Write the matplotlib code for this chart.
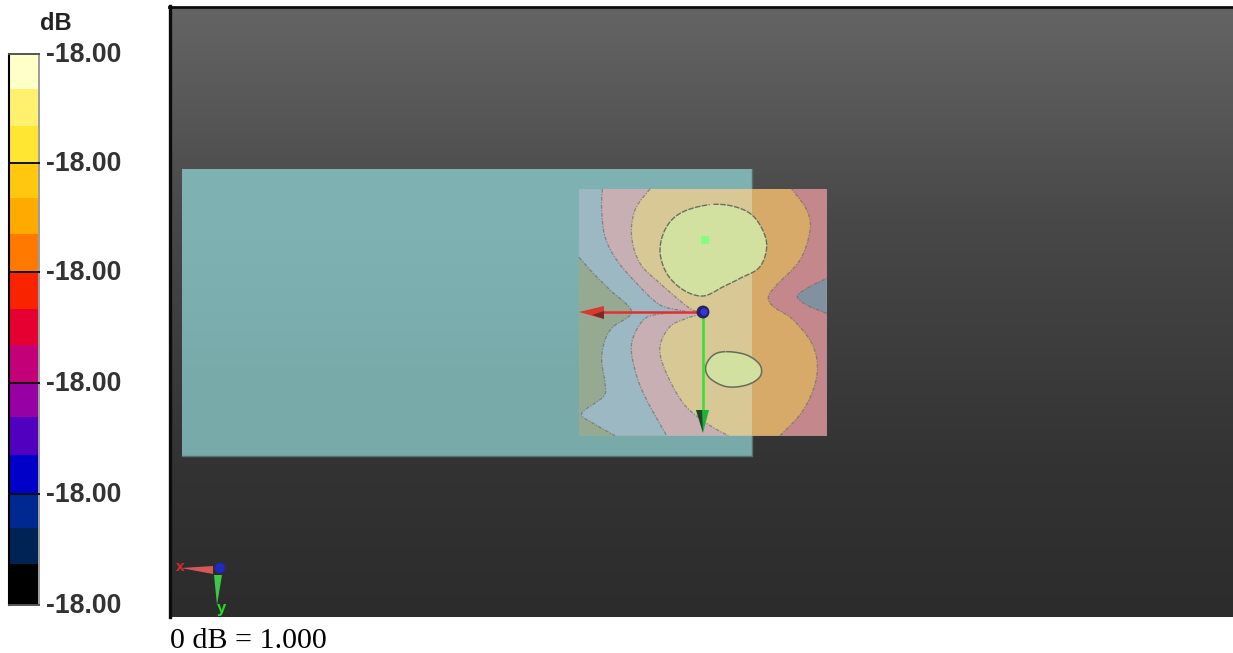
import numpy as np
import matplotlib
matplotlib.use("Agg")
import matplotlib.pyplot as plt
from matplotlib.patches import Polygon, Rectangle, Circle

W, H = 1233, 653
# ---- data -----------------------------------------------------------
band_edges = [54, 89, 126, 163, 198, 234, 272, 309, 345, 383, 417, 455, 493, 528, 564, 605]
band_colors = ['#FFFFC8', '#FFF06E', '#FFE632', '#FFC80F', '#FFAA00', '#FF7800', '#FA2300',
               '#E60032', '#C30078', '#9600A5', '#5000BE', '#0000C8', '#002891', '#002355', '#000000']
tick_pos = [54, 163, 272, 383, 494, 605]
tick_labels = ['-18.00'] * 6

# contour outlines, measured on a 3x crop whose origin is pixel (560,170)
green_edge = [(57, 262), (100, 310), (150, 360), (215, 425), (160, 470), (135, 510), (125, 570),
              (135, 640), (130, 680), (65, 730), (100, 760), (165, 797)]
pink_edge = [(127, 57), (125, 120), (135, 200), (170, 270), (230, 340), (300, 405), (375, 425), (300, 432),
             (250, 450), (215, 520), (225, 600), (255, 680), (320, 797)]
pink_right = [(800, 430), (740, 405), (712, 378), (750, 350), (800, 325)]
orange_left = [(270, 57), (225, 120), (215, 200), (240, 280), (300, 340), (385, 412), (420, 430),
               (380, 445), (330, 470), (300, 530), (315, 600), (370, 700), (440, 760), (505, 797)]
orange_right = [(660, 797), (730, 720), (770, 620), (760, 530), (700, 450), (640, 410), (625, 380),
                (650, 345), (720, 270), (750, 180), (740, 120), (695, 57)]
yellow_top = [(460, 103), (540, 115), (590, 150), (620, 220), (600, 290), (540, 325), (490, 350),
              (430, 378), (370, 360), (320, 310), (300, 240), (320, 170), (370, 125)]
yellow_low = [(500, 545), (560, 555), (600, 585), (600, 620), (560, 645), (500, 650), (450, 625),
              (437, 590), (460, 555)]
square = (57, 57, 800, 797)
plate = (182, 169, 752, 456)

colors_left = {'green': '#96AA91', 'blue': '#9BB8C3', 'pink': '#C8AFB4', 'orange': '#D7C896', 'yellow': '#D2E1A0'}
colors_right = {'green': '#96AA91', 'blue': '#8291A0', 'pink': '#C3878C', 'orange': '#D7AA69', 'yellow': '#D2E1A0'}


# ---- helpers --------------------------------------------------------
def crop(pts):
    return np.asarray(pts, float) / 3 + [560, 170]


def smooth(pts, closed=False, n=8):
    p = np.asarray(pts, float)
    if closed:
        q = np.vstack([p[-1], p, p[0], p[1]])
    else:
        q = np.vstack([p[0], p, p[-1]])
    out = []
    for i in range(1, len(q) - 2):
        for t in np.linspace(0, 1, n, endpoint=False):
            out.append(0.5 * (2 * q[i] + (q[i + 1] - q[i - 1]) * t
                              + (2 * q[i - 1] - 5 * q[i] + 4 * q[i + 1] - q[i + 2]) * t ** 2
                              + (3 * q[i] - q[i - 1] - 3 * q[i + 1] + q[i + 2]) * t ** 3))
    if not closed:
        out.append(q[-2])
    return np.array(out)


plt.rcParams['font.family'] = ['Liberation Sans', 'DejaVu Sans']
fig = plt.figure(figsize=(W / 100, H / 100), dpi=100, facecolor='white')
ax = fig.add_axes([0, 0, 1, 1])
ax.set_xlim(0, W)
ax.set_ylim(H, 0)
ax.axis('off')

# ---- colour bar -----------------------------------------------------
ax.bar([23.5] * len(band_colors), np.diff(band_edges), bottom=band_edges[:-1], width=29,
       color=band_colors, linewidth=0, zorder=2)
ax.plot([9, 9], [54, 605], color='black', lw=1.5, zorder=3)
ax.plot([38.5, 38.5], [54, 605], color='#8a8a8a', lw=1.2, zorder=3)
for yy, lab in zip(tick_pos, tick_labels):
    col = '#555555' if yy in (54, 605) else '#101010'
    ax.plot([9, 38.5], [yy, yy], color=col, lw=1.4, zorder=3)
    ax.text(46, yy + 1, lab, fontsize=19.2, fontweight='bold', color='#333333', va='center', ha='left')
ax.text(40, 24, 'dB', fontsize=17, fontweight='bold', color='#222222', va='center', ha='left')
ax.text(170, 648, '0 dB = 1.000', fontsize=21.6, family='Liberation Serif', color='black',
        va='baseline', ha='left')

# ---- viewport -------------------------------------------------------
grad = np.interp(np.linspace(0, 1, 300), [0, 0.06, 0.35, 0.75, 1], [100, 96, 72, 51, 44])
ax.imshow(np.repeat(grad[:, None], 3, axis=1)[:, None, :].astype(np.uint8),
          extent=(170, W, 617, 7), aspect='auto', zorder=1, interpolation='bilinear')
ax.set_xlim(0, W)
ax.set_ylim(H, 0)
ax.plot([170, 170], [6, 617], color='#0c0c0c', lw=2.4, zorder=2)
ax.plot([169, W], [7, 7], color='#0c0c0c', lw=2, zorder=2)

# teal plate
x0, y0, x1, y1 = plate
teal = np.array([[[126, 178, 178]], [[120, 170, 170]]], dtype=np.uint8)
ax.imshow(teal, extent=(x0, x1, y1, y0), aspect='auto', zorder=3, interpolation='bilinear')
ax.set_xlim(0, W)
ax.set_ylim(H, 0)
ax.plot([x0, x1, x1], [y1, y1, y0], color='#56706f', lw=1, zorder=3)

# ---- contour regions, two tints either side of the plate edge --------
sx0, sy0, sx1, sy1 = square
regions = [
    ('green', [(sx0, sy0), (sx1, sy0), (sx1, sy1), (sx0, sy1)]),
    ('blue', np.vstack([[(sx0, sy0)], smooth(green_edge), [(sx1, sy1), (sx1, sy0)]])),
    ('pink', np.vstack([smooth(pink_edge), [(sx1, sy1)], smooth(pink_right), [(sx1, sy0)]])),
    ('orange', np.vstack([smooth(orange_left), smooth(orange_right)])),
    ('yellow', smooth(yellow_top, closed=True)),
    ('yellow', smooth(yellow_low, closed=True)),
]
c0 = crop([(sx0, sy0)])[0]
c1 = crop([(sx1, sy1)])[0]
for palette, cx0, cx1 in ((colors_left, c0[0], plate[2]), (colors_right, plate[2], c1[0])):
    clip = Rectangle((cx0, c0[1]), cx1 - cx0, c1[1] - c0[1], transform=ax.transData)
    for name, pts in regions:
        p = Polygon(crop(pts), closed=True, facecolor=palette[name], edgecolor='none', zorder=4)
        ax.add_patch(p)
        p.set_clip_path(clip)

# contour lines on the curved edges only
curves = [smooth(green_edge), smooth(pink_edge), smooth(pink_right), smooth(orange_left), smooth(orange_right)]
for c in curves:
    ax.plot(*crop(c).T, color='#6a6f6a', lw=0.9, ls=(0, (3, 1.2, 1, 1.2)), alpha=0.7, zorder=5)
ax.plot(*crop(smooth(yellow_top, closed=True)).T, color='#6a6f60', lw=1.0, ls=(0, (4, 1)), zorder=5)
ax.plot(*crop(smooth(yellow_low, closed=True)).T, color='#666c5c', lw=1.1, zorder=5)

# probe marker
ax.add_patch(Rectangle((701, 236), 8, 8, facecolor='#82FF82', edgecolor='none', zorder=6))

# axis arrows
ax.plot([703, 595], [312, 312], color='#E23030', lw=1.8, zorder=7)
ax.add_patch(Polygon([(579, 312), (604, 306), (604, 319)], facecolor='#D83A30', edgecolor='none', zorder=7))
ax.add_patch(Polygon([(592, 315), (604, 311), (604, 319)], facecolor='#402020', edgecolor='none', alpha=.6, zorder=7))
ax.plot([703, 703], [312, 420], color='#38E038', lw=1.9, zorder=7)
ax.add_patch(Polygon([(696, 410), (709, 410), (703, 433)], facecolor='#22B03C', edgecolor='none', zorder=7))
ax.add_patch(Polygon([(696, 410), (702, 410), (703, 433)], facecolor='#1c2c22', edgecolor='none', alpha=.8, zorder=7))
ax.add_patch(Circle((703, 312), 6, facecolor='#23236E', edgecolor='#20203a', lw=0.6, zorder=8))
ax.add_patch(Circle((704, 312), 3.6, facecolor='#3434E0', edgecolor='none', zorder=8))

# orientation triad
ax.add_patch(Polygon([(181, 568), (213, 566), (213, 574)], facecolor='#D85858', edgecolor='none', zorder=7))
ax.add_patch(Polygon([(214, 575), (222, 575), (217, 605)], facecolor='#3CC848', edgecolor='none', zorder=7))
ax.add_patch(Circle((220, 568), 5, facecolor='#1E28D0', edgecolor='none', zorder=8))
ax.text(180, 567, 'x', color='#E02828', fontsize=11, fontweight='bold', ha='center', va='center', zorder=9)
ax.text(221, 609, 'y', color='#20E020', fontsize=12, fontweight='bold', ha='center', va='center', zorder=9)

fig.savefig('out.png', dpi=100)
